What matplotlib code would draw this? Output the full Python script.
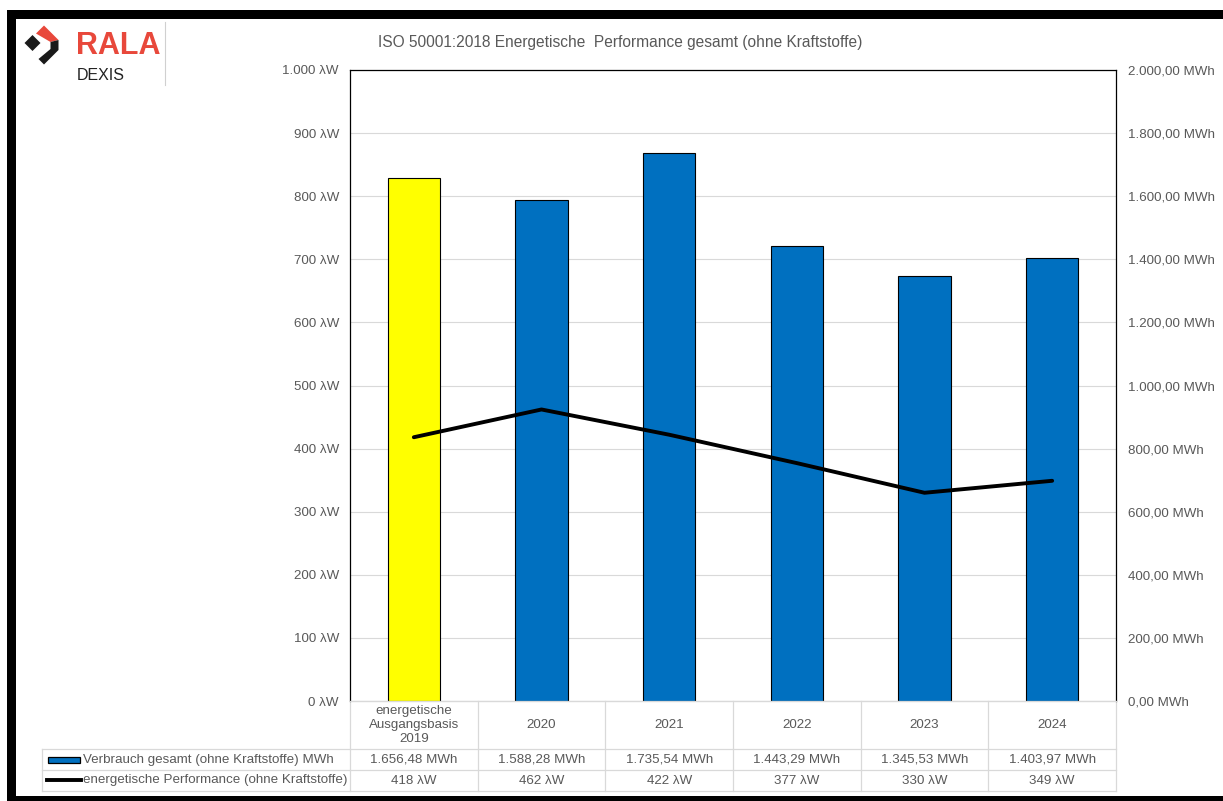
import matplotlib
matplotlib.use('Agg')
import matplotlib.pyplot as plt
import matplotlib.transforms as mtransforms
from matplotlib.patches import Rectangle, Polygon
import numpy as np

# data
categories = ['energetische\nAusgangsbasis\n2019', '2020', '2021', '2022', '2023', '2024']
verbrauch_mwh = [1656.48, 1588.28, 1735.54, 1443.29, 1345.53, 1403.97]
performance_lw = [418, 462, 422, 377, 330, 349]
bar_colors = ['#ffff00', '#0070c0', '#0070c0', '#0070c0', '#0070c0', '#0070c0']
left_ticks = list(range(0, 1001, 100))
right_ticks = list(range(0, 2001, 200))

title = 'ISO 50001:2018 Energetische  Performance gesamt (ohne Kraftstoffe)'
row_labels = ['Verbrauch gesamt (ohne Kraftstoffe) MWh',
              'energetische Performance (ohne Kraftstoffe)']

W, H = 1223, 801
plt.rcParams['font.family'] = ['Liberation Sans', 'DejaVu Sans']
txt_col = '#595959'
grid_col = '#d9d9d9'
fs = 9.6


def de(v, d=0):
    s = f"{v:,.{d}f}"
    return s.replace(',', '#').replace('.', ',').replace('#', '.')


def fy(y):
    return 1 - y / H


fig = plt.figure(figsize=(W / 100, H / 100), dpi=100)
fig.patch.set_facecolor('white')

# main axes (bars, MWh on the right)
ax = fig.add_axes([350 / W, (H - 701) / H, 766 / W, 631 / H])
x = np.arange(len(categories))
ax.bar(x, verbrauch_mwh, width=0.41, color=bar_colors, edgecolor='black',
       linewidth=0.8, zorder=3)
ax.set_xlim(-0.5, len(categories) - 0.5)
ax.set_ylim(0, 2000)
ax.set_xticks([])
ax.grid(axis='y', color=grid_col, linewidth=0.8, zorder=0)
ax.set_axisbelow(True)
for s in ['left', 'right', 'top']:
    ax.spines[s].set_color('black')
    ax.spines[s].set_linewidth(0.9)
ax.spines['bottom'].set_color(grid_col)

# twin axes (line, λW on the left)
ax2 = ax.twinx()
ax2.plot(x, performance_lw, color='black', linewidth=2.8, solid_capstyle='round',
         solid_joinstyle='round', zorder=4)
ax2.set_ylim(0, 1000)
ax2.set_yticks(left_ticks)
ax2.set_yticklabels([de(v) + ' λW' for v in left_ticks])
ax2.yaxis.tick_left()
ax2.tick_params(axis='y', length=0, pad=8, labelsize=fs, labelcolor=txt_col)
for s in ax2.spines.values():
    s.set_visible(False)

# twinx moved the main ticks to the left, put them back right
ax.yaxis.tick_right()
ax.set_yticks(right_ticks)
ax.set_yticklabels([de(v, 2) + ' MWh' for v in right_ticks])
ax.tick_params(axis='y', length=0, pad=9, labelsize=fs, labelcolor=txt_col)

fig.text(620 / W, fy(42), title, ha='center', va='center', fontsize=11.2, color=txt_col)

# data table below the plot
tcol = mtransforms.blended_transform_factory(ax.transData, fig.transFigure)
rows_y = [701, 748.5, 769.5, 790.5]
lw_t = 0.9
for i, yy in enumerate(rows_y):
    x0 = 350 if i == 0 else 42
    fig.add_artist(plt.Line2D([x0 / W, 1116 / W], [fy(yy), fy(yy)], color=grid_col,
                              linewidth=lw_t))
for b in np.arange(-0.5, len(categories), 1.0):
    ax.plot([b, b], [fy(rows_y[0]), fy(rows_y[-1])], transform=tcol, color=grid_col,
            linewidth=lw_t, clip_on=False, zorder=1)
fig.add_artist(plt.Line2D([42 / W, 42 / W], [fy(rows_y[1]), fy(rows_y[-1])],
                          color=grid_col, linewidth=lw_t))

for i, cat in enumerate(categories):
    ax.text(i, fy((rows_y[0] + rows_y[1]) / 2), cat, transform=tcol, ha='center',
            va='center', fontsize=fs, color=txt_col, linespacing=1.22)
    ax.text(i, fy((rows_y[1] + rows_y[2]) / 2 + 1), de(verbrauch_mwh[i], 2) + ' MWh',
            transform=tcol, ha='center', va='center', fontsize=fs, color=txt_col)
    ax.text(i, fy((rows_y[2] + rows_y[3]) / 2 + 1), de(performance_lw[i]) + ' λW',
            transform=tcol, ha='center', va='center', fontsize=fs, color=txt_col)

# legend keys in the row label column
fig.add_artist(Rectangle((48 / W, fy(763)), 32 / W, 6 / H, facecolor='#0070c0',
                         edgecolor='black', linewidth=0.9))
fig.add_artist(plt.Line2D([47 / W, 81 / W], [fy(780), fy(780)], color='black',
                          linewidth=2.8))
fig.text(83 / W, fy(759.5), row_labels[0], ha='left', va='center', fontsize=fs, color=txt_col)
fig.text(83 / W, fy(780.5), row_labels[1], ha='left', va='center', fontsize=fs, color=txt_col)

# logo
fig.add_artist(Polygon([(24.5 / W, fy(43)), (32.5 / W, fy(35)), (40.5 / W, fy(43)), (32.5 / W, fy(51))],
                       closed=True, facecolor='#1a1a1a', edgecolor='none'))
fig.add_artist(Polygon([(36 / W, fy(33.5)), (44 / W, fy(25.5)), (58.5 / W, fy(40)), (50.5 / W, fy(42))],
                       closed=True, facecolor='#e8483b', edgecolor='none'))
fig.add_artist(Polygon([(50.5 / W, fy(42)), (58.5 / W, fy(40)), (58.5 / W, fy(50)),
                        (44 / W, fy(64.5)), (38.5 / W, fy(59)), (50.5 / W, fy(49))],
                       closed=True, facecolor='#1a1a1a', edgecolor='none'))
fig.text(76 / W, fy(45.5), 'RALA', ha='left', va='center', fontsize=22, fontweight='bold',
         color='#e8483b')
fig.text(77 / W, fy(75.5), 'DEXIS', ha='left', va='center', fontsize=11.5, color='#222222')
fig.add_artist(plt.Line2D([165 / W, 165 / W], [fy(22), fy(85)], color='#d0d0d0', linewidth=0.8))

# black frame of the screenshot
for (x0, y0, x1, y1) in [(7, 10, W, 19), (7, 10, 16, H), (7, 796, W, H)]:
    fig.add_artist(Rectangle((x0 / W, fy(y1)), (x1 - x0) / W, (y1 - y0) / H,
                             facecolor='black', edgecolor='none'))

fig.savefig('out.png', dpi=100, facecolor='white')
